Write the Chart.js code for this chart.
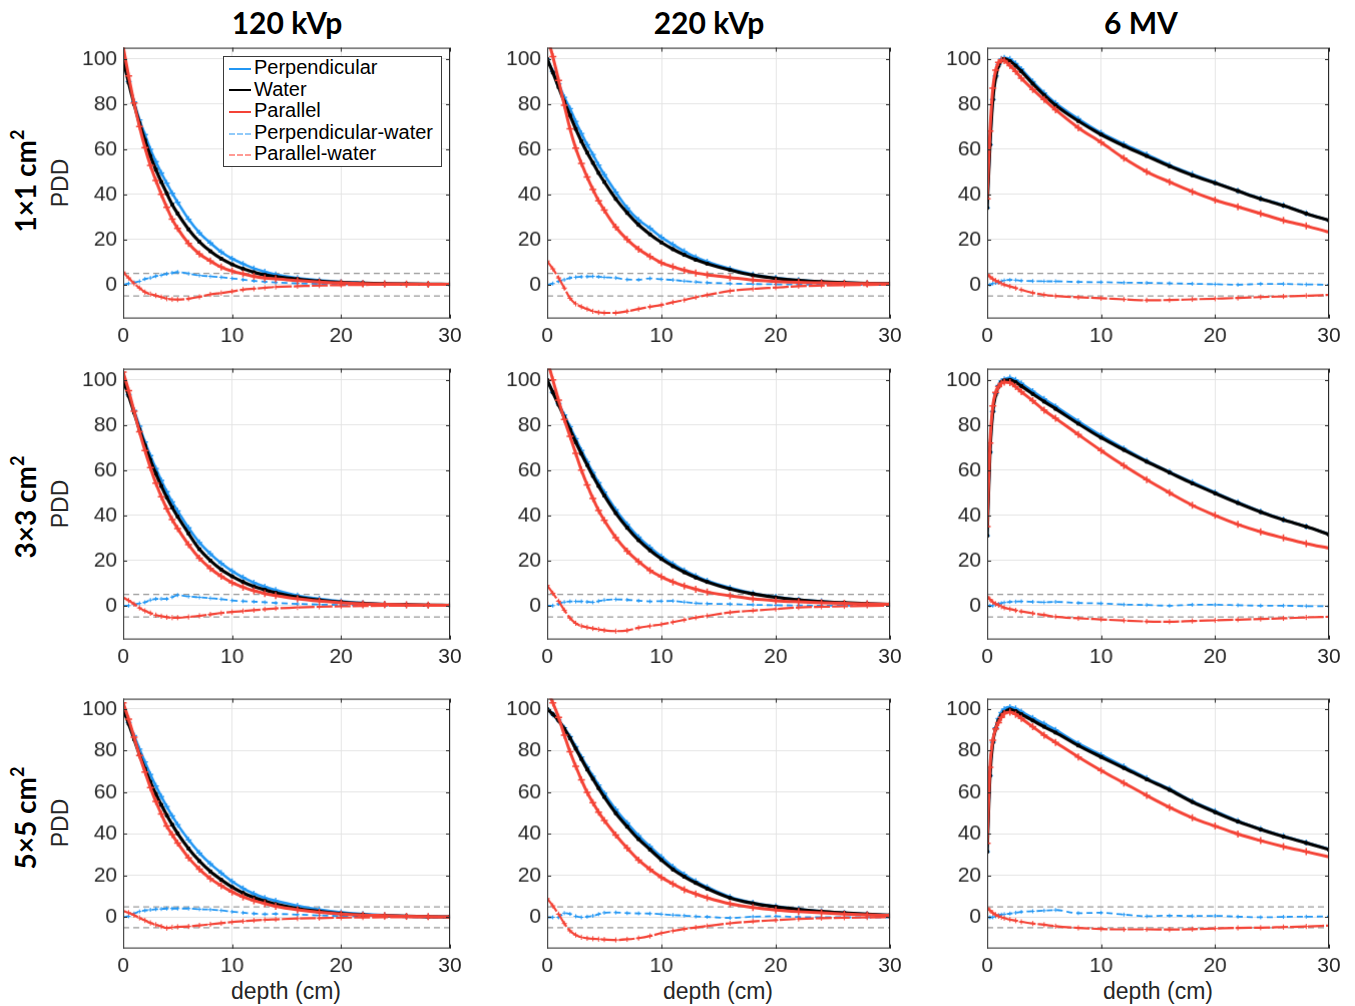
<!DOCTYPE html>
<html>
<head>
<meta charset="utf-8">
<title>PDD</title>
<script src="https://cdn.jsdelivr.net/npm/chart.js@4.4.0/dist/chart.umd.min.js"></script>
<style>
  html, body { margin: 0; padding: 0; background: #fff; }
  #fig { position: relative; width: 1355px; height: 1006px; overflow: hidden; font-family: "Liberation Sans", Arial, sans-serif; color: #262626; }
  #fig canvas { position: absolute; }
  .coltitle { position: absolute; top: 3px; width: 300px; margin-left: -150px; text-align: center; font: bold 30px Lato, "Open Sans", sans-serif; color: #000; line-height: 38px; }
  .rowlab, .ylab { position: absolute; width: 200px; margin-left: -100px; text-align: center; transform: rotate(-90deg); white-space: nowrap; }
  .rowlab { font: bold 28px Lato, "Open Sans", sans-serif; color: #000; line-height: 34px; margin-top: -17px; }
  .rowlab sup { font-size: 18px; line-height: 0; position: relative; top: -2px; }
  .ylab { font-size: 23px; line-height: 26px; margin-top: -13px; }
  .xlab { position: absolute; top: 977px; width: 200px; margin-left: -100px; text-align: center; font-size: 23px; line-height: 28px; }
  #legend { position: absolute; left: 223px; top: 56px; width: 217px; height: 109px; border: 1px solid #3a3a3a; background: #fff; z-index: 5; font-size: 20px; color: #000; }
  #legend div { height: 21.6px; line-height: 21.6px; white-space: nowrap; }
  #legend span { display: inline-block; width: 22px; margin: 0 3px 0 5px; vertical-align: middle; border-top-width: 2px; }
</style>
</head>
<body>
<div id="fig">
  <div class="coltitle" style="left:287px">120 kVp</div>
  <div class="coltitle" style="left:709px">220 kVp</div>
  <div class="coltitle" style="left:1141px">6 MV</div>

  <div class="rowlab" style="left:25px; top:181px">1×1 cm<sup>2</sup></div>
  <div class="rowlab" style="left:25px; top:507px">3×3 cm<sup>2</sup></div>
  <div class="rowlab" style="left:25px; top:818px">5×5 cm<sup>2</sup></div>

  <div class="ylab" style="left:60px; top:183px">PDD</div>
  <div class="ylab" style="left:60px; top:504px">PDD</div>
  <div class="ylab" style="left:60px; top:823px">PDD</div>

  <div class="xlab" style="left:286px">depth (cm)</div>
  <div class="xlab" style="left:718px">depth (cm)</div>
  <div class="xlab" style="left:1158px">depth (cm)</div>

  <div id="legend">
    <div><span style="border-top:2px solid #2196F3"></span>Perpendicular</div>
    <div><span style="border-top:2px solid #000"></span>Water</div>
    <div><span style="border-top:2px solid #F44336"></span>Parallel</div>
    <div><span style="border-top:2px dashed #90CAF9"></span>Perpendicular-water</div>
    <div><span style="border-top:2px dashed #FF9A94"></span>Parallel-water</div>
  </div>

  <canvas id="c11"></canvas><canvas id="c12"></canvas><canvas id="c13"></canvas>
  <canvas id="c21"></canvas><canvas id="c22"></canvas><canvas id="c23"></canvas>
  <canvas id="c31"></canvas><canvas id="c32"></canvas><canvas id="c33"></canvas>
</div>

<script>
// depth grids (cm)
var kvDepth = [0,0.5,1,1.5,2,2.5,3,3.5,4,4.5,5,6,7,8,9,10,11,12,13,14,16,18,20,22,24,26,28,30];
var mvDepth = [0,0.25,0.5,0.75,1,1.25,1.5,2,2.5,3,4,5,6,8,10,12,14,16,18,20,22,24,26,28,30];

var depthTicks = [0,10,20,30];
var pddTicks = [0,20,40,60,80,100];
var tolerance = [-5, 5];

// ---- 1x1 cm2 ----
var perp_1_120  = [100,90,81,73,66.5,60,54.5,49.5,45,40.5,36.5,29,23,18.5,14.5,11.5,9.2,7.2,5.7,4.5,2.9,1.9,1.2,0.8,0.5,0.35,0.25,0.2];
var water_1_120 = [100,89.5,80,71.5,64,57,51,45.5,40.5,35.5,31.5,24.5,19,14.8,11.5,9,7,5.5,4.3,3.6,2.5,1.6,1.0,0.7,0.45,0.3,0.2,0.15];
var par_1_120   = [105.6,92.5,80.5,70,60.7,52.8,46.2,40,34.3,29,24.9,18.3,13.6,10.5,7.8,6,4.8,3.7,2.9,2.6,1.8,1.2,0.8,0.5,0.4,0.3,0.2,0.15];
var dPerp_1_120 = [0,0.5,1,1.5,2.5,3,3.8,4.2,4.8,5.2,5.6,4.9,4.1,3.7,3.3,2.8,2.2,1.7,1.3,1,0.6,0.35,0.2,0.1,0.05,0,0,0];
var dPar_1_120  = [5.6,3,0.5,-1.5,-3.3,-4.2,-4.8,-5.5,-6.2,-6.5,-6.6,-6.2,-5.4,-4.3,-3.7,-3,-2.2,-1.8,-1.4,-1,-0.7,-0.4,-0.2,-0.1,0,0,0,0];

var perp_1_220  = [100,94.5,89,83,78,72.3,67,62,57.7,53,48.8,41,34,28.7,25,21,17.8,14.8,12.2,10.2,7,4.5,3,2,1.3,0.9,0.6,0.4];
var water_1_220 = [100,94,87.5,81,75,69,63.5,58.5,54,49.5,45.5,38,31.8,26.5,22.3,18.7,15.7,13.2,11,9.3,6.5,4.2,2.8,1.9,1.3,0.9,0.6,0.4];
var par_1_220   = [110,101,90.5,79.5,69,60.5,53.7,47.7,42.2,37.2,33,25.5,20,15.7,12.5,9.7,7.9,6.4,5.2,4.4,3.2,2,1.4,1,0.8,0.6,0.5,0.4];
var dPerp_1_220 = [0,0.5,1.5,2.2,3,3.3,3.5,3.6,3.7,3.5,3.3,3,2.3,2.2,2.8,2.4,2.1,1.6,1.2,0.9,0.5,0.3,0.15,0.05,0,0,-0.1,-0.1];
var dPar_1_220  = [10.5,7,3,-1.5,-6,-8.5,-9.8,-10.8,-11.8,-12.3,-12.5,-12.5,-11.8,-10.8,-9.8,-9,-7.8,-6.8,-5.6,-4.6,-2.8,-1.9,-1.3,-0.7,-0.4,-0.2,-0.1,0];

var perp_1_6mv  = [34,62,82,92.5,97.5,100,100.5,100,98,95.5,90,85,80.5,73.5,67.3,62.3,57.7,53,49,45.3,41.6,38.2,35.2,31.6,28.5];
var water_1_6mv = [34,62,82,92,97,99.3,100,99,97,94.5,89,84,79.5,72.5,66.5,61.5,57,52.5,48.5,45,41.5,38,35,31.5,28.5];
var par_1_6mv   = [38,68,87,95,98.5,99.5,99.3,97,94.5,91.5,86.5,82,77.5,69.5,63,56,50,45.5,41.2,37.5,34.5,31.5,28.5,26,23.3];
var dPerp_1_6mv = [0,0,0.5,0.8,1,1.5,1.9,2.1,2,1.8,1.6,1.5,1.5,1.2,1.1,0.9,0.8,0.6,0.4,0.2,0,0.3,0.3,0.1,0];
var dPar_1_6mv  = [4.5,3.5,2.5,1.8,1.2,0.5,0,-0.8,-1.5,-2.3,-3.6,-4.5,-5,-5.6,-6,-6.5,-6.9,-6.8,-6.5,-6.2,-5.9,-5.5,-5.2,-4.9,-4.5];

// ---- 3x3 cm2 ----
var perp_3_120  = [100,93.5,86.5,79.5,72.5,66.5,60.8,55.5,50.5,46,42,34.5,28,23,18.8,15.3,12.5,10.2,8.4,6.9,4.5,3,1.9,1.2,0.7,0.45,0.3,0.2];
var water_3_120 = [100,93,85.5,78,71,64.5,58.5,53,48,43.5,39.5,32,25,20,16,13,10.5,8.5,7,5.7,3.8,2.5,1.6,1,0.6,0.4,0.25,0.15];
var par_3_120   = [103.5,95.3,86.2,77,68.7,61.2,54.3,48.3,42.9,38.2,34.2,27,21,16.5,13,10.2,8.2,6.6,5.4,4.5,3,2,1.3,0.85,0.55,0.4,0.25,0.15];
var dPerp_3_120 = [0,0,0.5,1,1.5,2.5,3,3,3,3.8,4.7,4.1,3.7,3.3,2.9,2.3,2,1.8,1.5,1.2,0.8,0.5,0.3,0.15,0.05,0,0,0];
var dPar_3_120  = [3.5,2.3,0.7,-1,-2.3,-3.3,-4.2,-4.7,-5.1,-5.3,-5.3,-5,-4.5,-3.9,-3.3,-2.8,-2.4,-2,-1.6,-1.2,-0.8,-0.5,-0.3,-0.15,-0.05,0,0,0];

var perp_3_220  = [100,94.5,89.5,84.5,79.3,74,68.8,63.8,59,54.5,50.3,42.5,36,30.4,25.8,21.8,18.5,15.6,13.2,11.1,7.9,5.5,3.9,2.7,1.9,1.3,0.9,0.6];
var water_3_220 = [100,94.5,89,83.5,78,72.5,67.3,62.3,57.5,53,48.8,41,34.5,29,24.5,20.7,17.5,14.8,12.5,10.5,7.4,5.2,3.7,2.6,1.8,1.3,0.9,0.6];
var par_3_220   = [109,100,91,82.5,75,67.5,60,53.5,47.5,42.2,37.8,30.2,24.2,19.5,15.6,12.8,10.5,8.7,7.3,6,4.4,3,2.2,1.7,1.3,1,0.8,0.6];
var dPerp_3_220 = [0,0,0.8,1.6,1.9,1.9,1.9,1.7,1.5,2,2.5,2.8,2.6,2.2,1.9,2,2.1,1.6,1.1,0.9,0.7,0.4,0.2,0.1,0,0,0,0];
var dPar_3_220  = [9,5.5,2,-2,-5.5,-7.8,-9,-9.6,-10.1,-10.5,-10.9,-11.3,-11,-9.8,-9,-8.3,-7.3,-6.3,-5.3,-4.5,-3,-2.2,-1.5,-0.8,-0.5,-0.3,-0.1,0];

var perp_3_6mv  = [31,68,86,94,97.5,99.5,100.3,101,100,98.5,95,91.6,88.3,81.7,75.4,69.6,64.2,59.3,54.7,50.2,45.8,41.7,38.2,35.1,31.6];
var water_3_6mv = [31,68,86,93.5,97,99,99.8,100,99,97.3,93.8,90.4,87.2,80.6,74.4,69,63.8,59,54.2,49.8,45.5,41.5,38,35,31.5];
var par_3_6mv   = [35,72,88.5,94.5,97,98.5,99,98.8,97,94.8,90.8,86.6,83,75.8,68.7,62,55.8,50,44.5,40,36,32.7,30,27.5,25.5];
var dPerp_3_6mv = [0,0,0,0.5,0.8,1.1,1.4,1.7,1.8,1.9,1.7,1.5,1.7,1.2,1,0.5,0.3,0,0.4,0.4,0.2,0,0,-0.2,-0.3];
var dPar_3_6mv  = [4,2.8,1.6,0.8,0.2,-0.4,-0.9,-1.5,-2.1,-2.6,-3.4,-4.1,-4.9,-5.6,-6.1,-6.6,-7,-7.1,-6.8,-6.5,-6.2,-5.9,-5.6,-5.2,-4.9];

// ---- 5x5 cm2 ----
var perp_5_120  = [100,93.5,87.3,80.8,74.6,68.6,63.1,58,53.2,48.7,44.5,37.2,30.9,25.7,21.3,17.2,13.9,11.3,9.3,7.9,5.5,3.7,2.4,1.6,1,0.6,0.3,0.2];
var water_5_120 = [100,93,85.5,78,71.3,65,59.2,54,49,44.5,40.3,33,27,22,18,14.5,11.7,9.5,7.8,6.3,4.2,2.8,1.8,1.2,0.8,0.5,0.3,0.2];
var par_5_120   = [103,95.2,86.5,77.7,69.8,62.3,55.6,49.6,43.8,39.7,35.7,28.6,23.1,18.6,15.2,12.2,9.8,8,6.6,5.3,3.6,2.4,1.6,1.1,0.8,0.5,0.3,0.2];
var dPerp_5_120 = [0,0.5,1.8,2.8,3.3,3.6,3.9,4,4.2,4.2,4.2,4.2,3.9,3.7,3.3,2.7,2.2,1.8,1.5,1.6,1.3,0.9,0.6,0.4,0.2,0.1,0,0];
var dPar_5_120  = [3,2.2,1,-0.3,-1.5,-2.7,-3.6,-4.4,-5.2,-4.8,-4.6,-4.4,-3.9,-3.4,-2.8,-2.3,-1.9,-1.5,-1.2,-1,-0.6,-0.4,-0.2,-0.1,0,0,0,0];

var perp_5_220  = [100,97.5,94.7,91,86.8,82,77,72.2,67.8,63.5,59.5,51.8,45.3,39.2,34,29,24.3,20.6,17.3,14.5,9.8,7,5.3,4,2.9,2.1,1.5,1];
var water_5_220 = [100,97.5,94.5,90.5,86,81,76,71,66.5,62,57.8,50,43.5,37.5,32.5,27.5,23,19.5,16.5,13.8,9.3,6.7,5,3.8,2.8,2.1,1.5,1];
var par_5_220   = [109,103,96,87.5,79.5,72.5,66,60,55,50.5,46.5,39.5,33.2,27.5,23,19.2,16,13.3,11.2,9.4,6.5,4.7,3.5,2.7,2.1,1.6,1.2,0.9];
var dPerp_5_220 = [0,0,0,2,1.6,0.5,0,0.3,0.7,1.5,2.2,2.3,2,1.9,1.8,1.5,1.1,0.8,0.4,0.2,-0.3,0.3,0.5,0.1,0,0,0,0];
var dPar_5_220  = [9,5.5,1.5,-3,-6.5,-8.5,-9.6,-10.1,-10.3,-10.5,-10.7,-10.9,-10.6,-10,-9,-7.6,-6.5,-5.6,-4.9,-4.2,-2.9,-2,-1.4,-0.8,-0.4,-0.2,-0.1,0];

var perp_5_6mv  = [31.5,68,84,91,95.5,98.3,100,101,100.3,98.8,95.8,93,90,83.5,78,72.5,66.8,61.7,55.8,51,46.3,42.4,39,35.9,32.8];
var water_5_6mv = [31.5,68,84,90.5,94.5,97,98.5,99.8,99,97.5,94.5,91.5,88.7,82.5,77,71.7,66.3,61.2,55.4,50.5,46,42.2,38.8,35.7,32.5];
var par_5_6mv   = [35.5,72,85,90.5,93.5,96,97.8,98.5,97.5,95.5,91.5,87.5,84,77,70.5,64.5,58.5,52.8,47.8,43.8,40,36.8,34,31.5,29];
var dPerp_5_6mv = [0,0,0,0.5,1,1.3,1.5,1.8,2.2,2.6,2.9,3.2,3.5,2,2.2,1.3,0.5,0.8,0.6,0.7,0.3,0,0.2,0.3,0.4];
var dPar_5_6mv  = [4.5,3.3,2.1,1.2,0.5,0,-0.4,-1.1,-1.6,-2.2,-3,-3.6,-4.3,-5.1,-5.6,-5.8,-5.8,-5.9,-5.7,-5.4,-5.1,-5,-4.7,-4.4,-4];

var BLUE = '#2196F3', RED = '#F44336', BLACK = '#000000';

// plot-area boxes of the grid
var colLeft = [123, 547, 987], colWidth = [326, 342, 341];
var rowTop = [48, 369, 699], rowHeight = [270, 270, 249];
var AXIS_W = 70, AXIS_H = 36, PAD_T = 12, PAD_R = 14;

// frame + inward ticks like a boxed axes
var boxPlugin = {
  id: 'box',
  afterDraw: function(chart) {
    var a = chart.chartArea, ctx = chart.ctx;
    var xs = chart.scales.x, ys = chart.scales.y;
    ctx.save();
    ctx.strokeStyle = '#262626';
    ctx.lineWidth = 1;
    ctx.strokeRect(a.left + 0.5, a.top + 0.5, a.right - a.left - 1, a.bottom - a.top - 1);
    ctx.beginPath();
    xs.ticks.forEach(function(t) {
      var px = Math.round(xs.getPixelForValue(t.value)) + 0.5;
      ctx.moveTo(px, a.bottom); ctx.lineTo(px, a.bottom - 4);
      ctx.moveTo(px, a.top); ctx.lineTo(px, a.top + 4);
    });
    ys.ticks.forEach(function(t) {
      var py = Math.round(ys.getPixelForValue(t.value)) + 0.5;
      ctx.moveTo(a.left, py); ctx.lineTo(a.left + 4, py);
      ctx.moveTo(a.right, py); ctx.lineTo(a.right - 4, py);
    });
    ctx.stroke();
    ctx.restore();
  }
};

function xy(depth, vals) {
  return vals.map(function(v, i) { return { x: depth[i], y: v }; });
}

function limitLine(v) {
  return {
    data: [{ x: depthTicks[0], y: v }, { x: depthTicks[depthTicks.length - 1], y: v }],
    borderColor: '#9a9a9a', borderWidth: 1.2, borderDash: [6, 4],
    pointRadius: 0, fill: false
  };
}

function panel(id, row, col, depth, perp, water, par, dPerp, dPar) {
  var cv = document.getElementById(id);
  var w = colWidth[col] + AXIS_W + PAD_R, h = rowHeight[row] + PAD_T + AXIS_H;
  cv.width = w; cv.height = h;
  cv.style.width = w + 'px'; cv.style.height = h + 'px';

  var chart = new Chart(cv, {
    type: 'line',
    data: {
      datasets: [
        { label: 'Parallel', data: xy(depth, par), borderColor: RED, backgroundColor: RED,
          borderWidth: 3, pointStyle: 'cross', pointRadius: 3.5, pointBorderWidth: 1.5 },
        { label: 'Parallel-water', data: xy(depth, dPar), borderColor: RED, backgroundColor: RED,
          borderWidth: 2.2, borderDash: [16, 2], pointStyle: 'cross', pointRadius: 2.6, pointBorderWidth: 1 },
        { label: 'Water', data: xy(depth, water), borderColor: BLACK, backgroundColor: BLACK,
          borderWidth: 3.2, pointStyle: 'rect', pointRadius: 2, pointBorderWidth: 1 },
        { label: 'Perpendicular', data: xy(depth, perp), borderColor: BLUE, backgroundColor: BLUE,
          borderWidth: 2.6, pointStyle: 'cross', pointRadius: 3, pointBorderWidth: 1.3 },
        { label: 'Perpendicular-water', data: xy(depth, dPerp), borderColor: BLUE, backgroundColor: BLUE,
          borderWidth: 1.8, borderDash: [6, 4], pointStyle: 'cross', pointRadius: 2, pointBorderWidth: 1 },
        limitLine(tolerance[1]),
        limitLine(tolerance[0])
      ]
    },
    options: {
      responsive: false,
      maintainAspectRatio: false,
      animation: false,
      devicePixelRatio: 1,
      layout: { autoPadding: false, padding: { top: PAD_T, right: PAD_R, left: 0, bottom: 0 } },
      elements: { line: { cubicInterpolationMode: 'monotone' } },
      plugins: { legend: { display: false }, tooltip: { enabled: false } },
      scales: {
        x: {
          type: 'linear', min: 0, max: 30,
          afterBuildTicks: function(s) { s.ticks = depthTicks.map(function(v) { return { value: v }; }); },
          afterFit: function(s) { s.height = AXIS_H; },
          ticks: { font: { size: 21 }, color: '#262626', padding: 5, maxRotation: 0, autoSkip: false },
          grid: { color: '#e4e4e4', drawTicks: false, lineWidth: 1 },
          border: { display: false }
        },
        y: {
          type: 'linear', min: -15, max: 105,
          afterBuildTicks: function(s) { s.ticks = pddTicks.map(function(v) { return { value: v }; }); },
          afterFit: function(s) { s.width = AXIS_W; },
          ticks: { font: { size: 21 }, color: '#262626', padding: 6, autoSkip: false },
          grid: { color: '#e4e4e4', drawTicks: false, lineWidth: 1 },
          border: { display: false }
        }
      }
    },
    plugins: [boxPlugin]
  });

  // grow the canvas by whatever the layout took, then pin the plot area in place
  var a = chart.chartArea;
  var dw = colWidth[col] - (a.right - a.left), dh = rowHeight[row] - (a.bottom - a.top);
  if (dw || dh) {
    chart.resize(w + dw, h + dh);
    a = chart.chartArea;
  }
  cv.style.left = (colLeft[col] - a.left) + 'px';
  cv.style.top = (rowTop[row] - a.top) + 'px';
  return chart;
}

Chart.defaults.font.family = '"Liberation Sans", Arial, sans-serif';

panel('c11', 0, 0, kvDepth, perp_1_120, water_1_120, par_1_120, dPerp_1_120, dPar_1_120);
panel('c12', 0, 1, kvDepth, perp_1_220, water_1_220, par_1_220, dPerp_1_220, dPar_1_220);
panel('c13', 0, 2, mvDepth, perp_1_6mv, water_1_6mv, par_1_6mv, dPerp_1_6mv, dPar_1_6mv);
panel('c21', 1, 0, kvDepth, perp_3_120, water_3_120, par_3_120, dPerp_3_120, dPar_3_120);
panel('c22', 1, 1, kvDepth, perp_3_220, water_3_220, par_3_220, dPerp_3_220, dPar_3_220);
panel('c23', 1, 2, mvDepth, perp_3_6mv, water_3_6mv, par_3_6mv, dPerp_3_6mv, dPar_3_6mv);
panel('c31', 2, 0, kvDepth, perp_5_120, water_5_120, par_5_120, dPerp_5_120, dPar_5_120);
panel('c32', 2, 1, kvDepth, perp_5_220, water_5_220, par_5_220, dPerp_5_220, dPar_5_220);
panel('c33', 2, 2, mvDepth, perp_5_6mv, water_5_6mv, par_5_6mv, dPerp_5_6mv, dPar_5_6mv);
</script>
</body>
</html>
